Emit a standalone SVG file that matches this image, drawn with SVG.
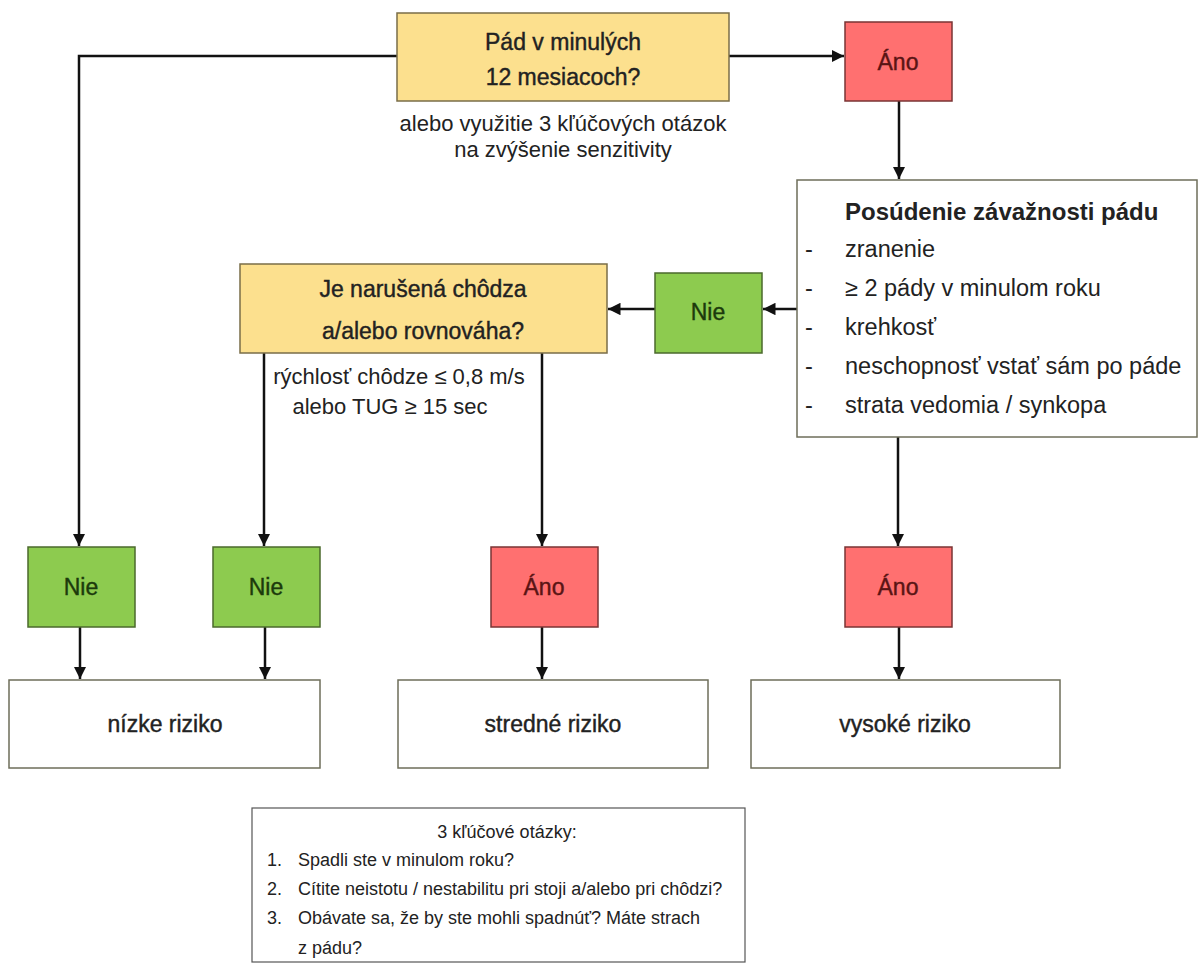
<svg xmlns="http://www.w3.org/2000/svg" width="1199" height="975" viewBox="0 0 1199 975">
<style>
text{font-family:"Liberation Sans",Arial,sans-serif;fill:#222}
.yel{fill:#FCE08E;stroke:#7a6e48;stroke-width:1.5}
.red{fill:#FF7070;stroke:#7a3434;stroke-width:1.5}
.grn{fill:#8DCB4F;stroke:#4b6a2c;stroke-width:1.5}
.wht{fill:#fff;stroke:#6e6e5a;stroke-width:1.5}
.key{fill:#fff;stroke:#555;stroke-width:1.2}
.t23{font-size:23px;text-anchor:middle;stroke:#222;stroke-width:0.4}
.t22{font-size:22px;text-anchor:middle}
.tr{fill:#5a1414;stroke:#5a1414}
.tg{fill:#1c3a0c;stroke:#1c3a0c}
.li{font-size:23.5px}
.k{font-size:18px}
.c{fill:none;stroke:#111;stroke-width:2.5}
</style>
<defs>
<marker id="ah" viewBox="0 0 10 10" refX="10" refY="5" markerWidth="5" markerHeight="5" orient="auto" markerUnits="strokeWidth">
<path d="M0,0 L10,5 L0,10 z" fill="#111"/>
</marker>
</defs>

<g id="connectors">
<path class="c" d="M397,56 H79 V546" marker-end="url(#ah)"/>
<path class="c" d="M729,56 H844" marker-end="url(#ah)"/>
<path class="c" d="M899,101 V179" marker-end="url(#ah)"/>
<path class="c" d="M797,309 H763" marker-end="url(#ah)"/>
<path class="c" d="M655,309 H608" marker-end="url(#ah)"/>
<path class="c" d="M264,353 V546" marker-end="url(#ah)"/>
<path class="c" d="M542,353 V546" marker-end="url(#ah)"/>
<path class="c" d="M898,437 V546" marker-end="url(#ah)"/>
<path class="c" d="M80,627 V679" marker-end="url(#ah)"/>
<path class="c" d="M265,627 V679" marker-end="url(#ah)"/>
<path class="c" d="M542,627 V679" marker-end="url(#ah)"/>
<path class="c" d="M899,627 V679" marker-end="url(#ah)"/>
</g>

<g id="q1">
<rect class="yel" x="397" y="13" width="332" height="88"/>
<text class="t23" x="563" y="50">Pád v minulých</text>
<text class="t23" x="563" y="85">12 mesiacoch?</text>
</g>
<g id="q1note">
<text class="t22" x="563" y="131">alebo využitie 3 kľúčových otázok</text>
<text class="t22" x="563" y="157">na zvýšenie senzitivity</text>
</g>

<g id="ano-top">
<rect class="red" x="845" y="22" width="107" height="79"/>
<text class="t23 tr" x="898" y="70">Áno</text>
</g>

<g id="severity">
<rect class="wht" x="797" y="180" width="400" height="257"/>
<text x="845" y="220" font-size="24px" font-weight="bold">Posúdenie závažnosti pádu</text>
<g class="li">
<text x="805" y="257">-</text><text x="845" y="257">zranenie</text>
<text x="805" y="296">-</text><text x="845" y="296">≥ 2 pády v minulom roku</text>
<text x="805" y="335">-</text><text x="845" y="335">krehkosť</text>
<text x="805" y="374">-</text><text x="845" y="374">neschopnosť vstať sám po páde</text>
<text x="805" y="413">-</text><text x="845" y="413">strata vedomia / synkopa</text>
</g>
</g>

<g id="nie-mid">
<rect class="grn" x="655" y="273" width="107" height="80"/>
<text class="t23 tg" x="708" y="320">Nie</text>
</g>

<g id="q2">
<rect class="yel" x="240" y="264" width="367" height="89"/>
<text class="t23" x="423" y="297">Je narušená chôdza</text>
<text class="t23" x="423" y="339">a/alebo rovnováha?</text>
</g>
<g id="q2note">
<text class="t22" x="399" y="384">rýchlosť chôdze ≤ 0,8 m/s</text>
<text class="t22" x="390" y="414">alebo TUG ≥ 15 sec</text>
</g>

<g id="nie1">
<rect class="grn" x="28" y="547" width="107" height="80"/>
<text class="t23 tg" x="81" y="595">Nie</text>
</g>
<g id="nie2">
<rect class="grn" x="213" y="547" width="107" height="80"/>
<text class="t23 tg" x="266" y="595">Nie</text>
</g>
<g id="ano-mid">
<rect class="red" x="491" y="547" width="107" height="80"/>
<text class="t23 tr" x="544" y="595">Áno</text>
</g>
<g id="ano-right">
<rect class="red" x="845" y="547" width="107" height="80"/>
<text class="t23 tr" x="898" y="595">Áno</text>
</g>

<g id="low">
<rect class="wht" x="9" y="680" width="311" height="88"/>
<text class="t23" x="165" y="732">nízke riziko</text>
</g>
<g id="mid">
<rect class="wht" x="398" y="680" width="310" height="88"/>
<text class="t23" x="553" y="732">stredné riziko</text>
</g>
<g id="high">
<rect class="wht" x="751" y="680" width="309" height="88"/>
<text class="t23" x="905" y="732">vysoké riziko</text>
</g>

<g id="keyq">
<rect class="key" x="252" y="808" width="493" height="154"/>
<text class="k" x="507" y="838" text-anchor="middle">3 kľúčové otázky:</text>
<text class="k" x="267" y="866">1.</text><text class="k" x="298" y="866">Spadli ste v minulom roku?</text>
<text class="k" x="267" y="895">2.</text><text class="k" x="298" y="895">Cítite neistotu / nestabilitu pri stoji a/alebo pri chôdzi?</text>
<text class="k" x="267" y="924">3.</text><text class="k" x="298" y="924">Obávate sa,  že by ste mohli spadnúť? Máte strach</text>
<text class="k" x="298" y="954">z pádu?</text>
</g>
</svg>
